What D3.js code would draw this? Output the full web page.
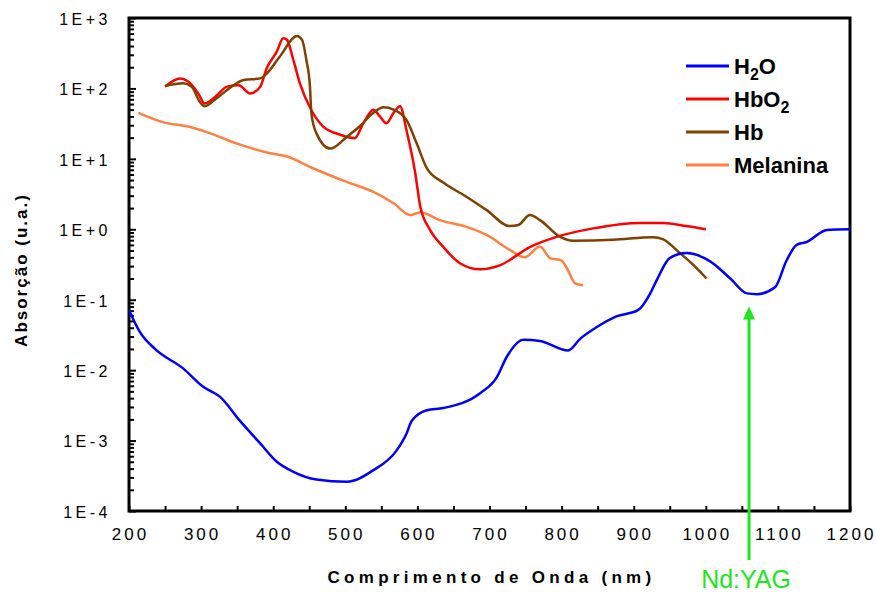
<!DOCTYPE html>
<html lang="pt">
<head>
    <meta charset="UTF-8">
    <title>Absorção vs Comprimento de Onda</title>
    <style>
        body {
            background-color: #ffffff;
            margin: 0;
            overflow: hidden;
            font-family: Arial, "Liberation Sans", sans-serif;
        }
        svg {
            display: block;
        }
        .tick-label {
            fill: #000;
        }
        .axis-title {
            font-weight: bold;
            fill: #000;
        }
        .legend text {
            font-size: 22px;
            font-weight: bold;
            fill: #000;
        }
    </style>
</head>
<body>
    <svg id="chart"></svg>

    <script src="https://d3js.org/d3.v7.min.js"></script>
    <script>
        // Data (wavelength in nm, absorption in a.u.)
        const h2oNm = [200, 215, 236, 275, 303, 326, 354, 382, 405, 428, 460, 502, 539, 571, 585, 592, 613, 636, 687, 710, 724, 747, 770, 809, 826, 849, 876, 906, 923, 932, 950, 973, 1006, 1034, 1057, 1071, 1096, 1112, 1126, 1140, 1168, 1200];
        const h2oVal = [0.071, 0.035, 0.020, 0.0106, 0.0058, 0.0042, 0.0019, 0.00091, 0.0005, 0.00036, 0.00028, 0.00026, 0.00038, 0.00072, 0.00126, 0.0019, 0.0027, 0.0029, 0.0047, 0.0079, 0.0155, 0.027, 0.026, 0.019, 0.028, 0.041, 0.058, 0.071, 0.123, 0.19, 0.39, 0.46, 0.35, 0.20, 0.123, 0.12, 0.15, 0.36, 0.60, 0.66, 0.98, 1.0];

        const hbo2Nm = [250, 271, 282, 296, 305, 322, 336, 352, 368, 382, 391, 405, 414, 419, 428, 437, 453, 469, 493, 513, 525, 539, 548, 557, 567, 576, 585, 597, 604, 617, 636, 659, 687, 715, 756, 793, 844, 909, 941, 973, 1000];
        const hbo2Val = [106, 138, 125, 85, 61, 80, 106, 111, 85, 106, 194, 333, 515, 490, 253, 118, 49, 29, 22, 19.6, 32, 50, 40, 32, 45, 56, 25, 6.3, 2.1, 1.0, 0.56, 0.33, 0.27, 0.31, 0.56, 0.78, 1.03, 1.23, 1.23, 1.11, 1.0];

        const hbNm = [250, 275, 287, 298, 305, 322, 345, 359, 382, 391, 409, 433, 440, 446, 451, 453, 460, 479, 502, 520, 539, 553, 567, 585, 599, 613, 636, 668, 696, 728, 740, 756, 770, 798, 816, 872, 927, 941, 964, 983, 1001];
        const hbVal = [108, 118, 106, 65, 56, 73, 111, 132, 139, 163, 282, 555, 488, 253, 106, 44, 23, 14, 20.5, 29, 45, 54, 50, 35.5, 16.6, 7.4, 4.6, 2.9, 1.87, 1.11, 1.15, 1.59, 1.35, 0.78, 0.69, 0.71, 0.77, 0.72, 0.46, 0.31, 0.20];

        const melNm = [213, 248, 280, 308, 349, 396, 419, 456, 502, 539, 567, 590, 604, 631, 668, 696, 728, 749, 770, 784, 800, 809, 819, 830];
        const melVal = [45, 33, 29, 24, 16.6, 12, 10.8, 7.3, 4.7, 3.4, 2.34, 1.59, 1.75, 1.35, 1.08, 0.83, 0.51, 0.40, 0.57, 0.39, 0.36, 0.26, 0.17, 0.16];

        const seriesNames = ["H2O", "HbO2", "Hb", "Melanina"];
        const seriesColors = ["#0000ff", "#ff0000", "#804000", "#ff8040"];

        const xTickValues = [200, 300, 400, 500, 600, 700, 800, 900, 1000, 1100, 1200];
        const xMinorValues = [250, 350, 450, 550, 650, 750, 850, 950, 1050, 1150];
        const yTickValues = [1e3, 1e2, 1e1, 1e0, 1e-1, 1e-2, 1e-3, 1e-4];
        const yTickLabels = ["1E+3", "1E+2", "1E+1", "1E+0", "1E-1", "1E-2", "1E-3", "1E-4"];

        const ndyagNm = 1060;
        const ndyagTip = 0.08;

        const totalWidth = 876, totalHeight = 592;
        const margin = { top: 18, right: 26, bottom: 81, left: 129 },
              width = totalWidth - margin.left - margin.right,
              height = totalHeight - margin.top - margin.bottom;

        const svg = d3.select("#chart")
            .attr("width", totalWidth)
            .attr("height", totalHeight)
            .append("g")
            .attr("transform", `translate(${margin.left},${margin.top})`);

        const x = d3.scaleLinear().domain([200, 1200]).range([0, width]);
        const y = d3.scaleLog().domain([1e-4, 1e3]).range([height, 0]);

        // Minor log ticks on y axis (inside)
        const minorY = y.ticks().filter(v => !yTickValues.some(t => Math.abs(t - v) / t < 1e-6));
        svg.append("g")
            .call(d3.axisRight(y).tickValues(minorY).tickSize(5).tickFormat(""))
            .call(g => g.select(".domain").remove())
            .selectAll("line").attr("stroke", "#000").attr("stroke-width", 2);

        // Major y ticks with labels
        const yAxis = svg.append("g")
            .call(d3.axisLeft(y).tickValues(yTickValues).tickSizeInner(-7).tickSizeOuter(0).tickPadding(18)
                .tickFormat((d, i) => yTickLabels[i]));
        yAxis.select(".domain").remove();
        yAxis.selectAll("line").attr("stroke", "#000").attr("stroke-width", 2);
        yAxis.selectAll("text")
            .attr("class", "tick-label")
            .attr("dy", "0.4em")
            .style("font-family", "Arial, 'Liberation Sans', sans-serif")
            .style("font-size", "16px")
            .style("letter-spacing", "3.5px");

        // X axis minor ticks
        svg.append("g")
            .attr("transform", `translate(0,${height})`)
            .call(d3.axisBottom(x).tickValues(xMinorValues).tickSize(-5).tickFormat(""))
            .call(g => g.select(".domain").remove())
            .selectAll("line").attr("stroke", "#000").attr("stroke-width", 2);

        // X axis major ticks with labels
        const xAxis = svg.append("g")
            .attr("transform", `translate(0,${height})`)
            .call(d3.axisBottom(x).tickValues(xTickValues).tickSizeInner(-5).tickSizeOuter(0).tickPadding(17)
                .tickFormat(d3.format("d")));
        xAxis.select(".domain").remove();
        xAxis.selectAll("line").attr("stroke", "#000").attr("stroke-width", 2);
        xAxis.selectAll("text")
            .attr("class", "tick-label")
            .style("font-family", "Arial, 'Liberation Sans', sans-serif")
            .style("font-size", "17px")
            .style("letter-spacing", "3px")
            .attr("dx", "1px");

        // Frame
        svg.append("rect")
            .attr("x", 0).attr("y", 0)
            .attr("width", width).attr("height", height)
            .attr("fill", "none")
            .attr("stroke", "#000")
            .attr("stroke-width", 3);

        // Lines
        const seriesData = [
            h2oNm.map((d, i) => ({ nm: d, v: h2oVal[i] })),
            hbo2Nm.map((d, i) => ({ nm: d, v: hbo2Val[i] })),
            hbNm.map((d, i) => ({ nm: d, v: hbVal[i] })),
            melNm.map((d, i) => ({ nm: d, v: melVal[i] }))
        ];

        const line = d3.line()
            .x(d => x(d.nm))
            .y(d => y(d.v))
            .curve(d3.curveMonotoneX);

        // draw order: melanin, HbO2, Hb, water
        [3, 1, 2, 0].forEach(i => {
            svg.append("path")
                .datum(seriesData[i])
                .attr("fill", "none")
                .attr("stroke", seriesColors[i])
                .attr("stroke-width", 2.5)
                .attr("stroke-linejoin", "round")
                .attr("d", line);
        });

        // Nd:YAG arrow
        const green = "#1ee61e";
        const ax = x(ndyagNm), tipY = y(ndyagTip);
        svg.append("line")
            .attr("x1", ax).attr("x2", ax)
            .attr("y1", tipY + 10).attr("y2", height + 49)
            .attr("stroke", green)
            .attr("stroke-width", 3);
        svg.append("path")
            .attr("d", `M${ax},${tipY} L${ax - 6},${tipY + 13} L${ax + 6},${tipY + 13} Z`)
            .attr("fill", green);
        svg.append("text")
            .attr("x", ax - 3)
            .attr("y", height + 77)
            .attr("text-anchor", "middle")
            .style("font-size", "25px")
            .style("fill", green)
            .text("Nd:YAG");

        // Axis titles
        svg.append("text")
            .attr("class", "axis-title")
            .attr("x", width / 2 + 2)
            .attr("y", height + 72)
            .attr("text-anchor", "middle")
            .style("font-size", "17px")
            .style("letter-spacing", "4.3px")
            .text("Comprimento de Onda (nm)");

        svg.append("text")
            .attr("class", "axis-title")
            .attr("transform", "rotate(-90)")
            .attr("x", -(270 - margin.top))
            .attr("y", -margin.left + 27)
            .attr("text-anchor", "middle")
            .style("font-size", "17px")
            .style("letter-spacing", "2px")
            .text("Absorção (u.a.)");

        // Legend
        const legend = svg.append("g")
            .attr("class", "legend")
            .attr("transform", `translate(${686 - margin.left},${66 - margin.top})`);

        seriesNames.forEach((name, i) => {
            const row = legend.append("g").attr("transform", `translate(0,${i * 33})`);
            row.append("line")
                .attr("x1", 0).attr("x2", 43)
                .attr("y1", 0).attr("y2", 0)
                .attr("stroke", seriesColors[i])
                .attr("stroke-width", 3);
            const t = row.append("text").attr("x", 48).attr("y", 8);
            if (name === "H2O") {
                t.append("tspan").text("H");
                t.append("tspan").attr("dy", 6).style("font-size", "16px").text("2");
                t.append("tspan").attr("dy", -6).text("O");
            } else if (name === "HbO2") {
                t.append("tspan").text("HbO");
                t.append("tspan").attr("dy", 6).style("font-size", "16px").text("2");
            } else {
                t.text(name);
            }
        });
    </script>
</body>
</html>
